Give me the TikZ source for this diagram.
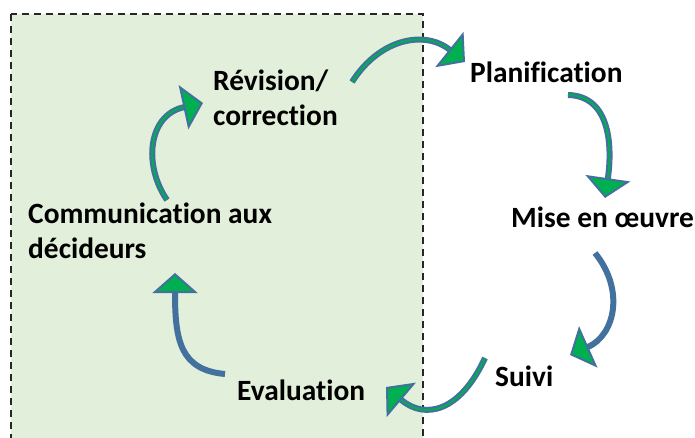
\documentclass[tikz,border=0pt]{standalone}
\usepackage{fontspec}
\setmainfont{Carlito}[Ligatures=NoCommon]
\usetikzlibrary{arrows.meta}
\definecolor{panelgreen}{RGB}{226,239,218}
\definecolor{arrowblue}{RGB}{65,113,156}
\definecolor{arrowgreen}{RGB}{0,176,80}
\tikzset{
  lbl/.style={font=\fontsize{29.4}{35}\selectfont\bfseries, anchor=base west, inner sep=0pt, align=left},
  cyc/.style={draw=arrowblue, line width=6pt, -{Triangle[width=45pt,length=20pt,fill=arrowgreen,line width=2pt]}},
  core/.style={draw=arrowgreen, line width=1.8pt, shorten >=20pt},
  panel/.style={fill=panelgreen, draw=black!85, line width=1.6pt, dash pattern=on 7pt off 5pt}
}
\begin{document}
\begin{tikzpicture}[x=1pt,y=-1pt]
\useasboundingbox (0,0) rectangle (695,438);
\begin{scope}
\clip (0,0) rectangle (695,438);
\draw[panel] (11,14) rectangle (423,445);
\end{scope}
% labels (multi-line nodes: base = last line)
\node[lbl] (rev) at (213,126) {Révision/\\correction};
\node[lbl] (plan) at (470,83) {Planification};
\node[lbl] (mise) at (511,227) {Mise en œuvre};
\node[lbl] (suivi) at (495,386) {Suivi};
\node[lbl] (eval) at (237,400) {Evaluation};
\node[lbl] (comm) at (28,258) {Communication aux\\décideurs};
% arrow end points
\coordinate (a1s) at (352,82);  \coordinate (a1e) at (465,62);
\coordinate (a2s) at (568,95);  \coordinate (a2e) at (605,198);
\coordinate (a3s) at (595,253); \coordinate (a3e) at (570,355);
\coordinate (a4s) at (485,358); \coordinate (a4e) at (386,387);
\coordinate (a5s) at (225,374); \coordinate (a5e) at (175,273);
\coordinate (a6s) at (167,200); \coordinate (a6e) at (203,103);
% arrows
\draw[cyc] (a1s) .. controls (380,38) and (425,30) .. (a1e);
\draw[core] (a1s) .. controls (380,38) and (425,30) .. (a1e);
\draw[cyc] (a2s) .. controls (612,96) and (612,150) .. (a2e);
\draw[core] (a2s) .. controls (612,96) and (612,150) .. (a2e);
\draw[cyc] (a3s) .. controls (625,290) and (615,335) .. (a3e);
\draw[cyc] (a4s) .. controls (460,412) and (425,420) .. (a4e);
\draw[core] (a4s) .. controls (460,412) and (425,420) .. (a4e);
\draw[cyc] (a5s) .. controls (180,370) and (175,340) .. (a5e);
\draw[cyc] (a6s) .. controls (143,165) and (148,115) .. (a6e);
\draw[core] (a6s) .. controls (143,165) and (148,115) .. (a6e);
\end{tikzpicture}
\end{document}
